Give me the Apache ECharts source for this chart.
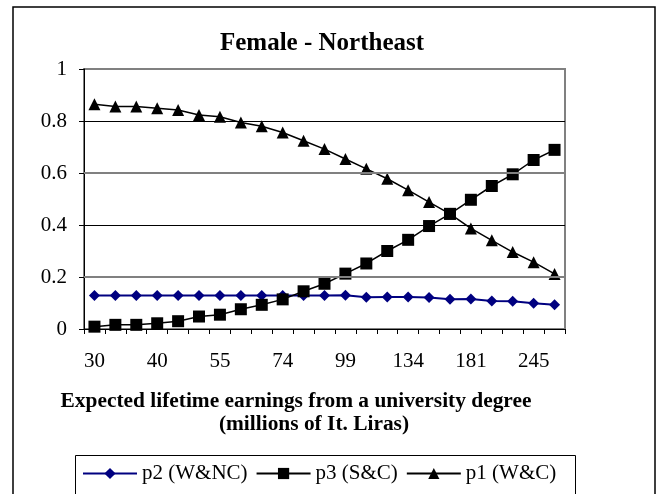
<!DOCTYPE html>
<html>
<head>
<meta charset="utf-8">
<script src="https://cdn.jsdelivr.net/npm/echarts@6/dist/echarts.min.js"></script>
<style>
html,body{margin:0;padding:0;background:#fff;}
#chart{width:663px;height:494px;}
</style>
</head>
<body>
<div id="chart"></div>
<script>
// Expected lifetime earnings (millions of It. Liras), category axis
var categories = [30, 33, 36, 40, 44, 50, 55, 61, 67, 74, 82, 90, 99, 110, 121, 134, 148, 164, 181, 200, 221, 245, 271];
var p2 = [0.129, 0.129, 0.129, 0.129, 0.129, 0.129, 0.129, 0.129, 0.129, 0.129, 0.129, 0.129, 0.130, 0.122, 0.123, 0.123, 0.121, 0.114, 0.115, 0.108, 0.107, 0.099, 0.093];
var p3 = [0.009, 0.016, 0.016, 0.022, 0.030, 0.048, 0.055, 0.076, 0.093, 0.114, 0.145, 0.174, 0.213, 0.252, 0.300, 0.343, 0.396, 0.443, 0.497, 0.550, 0.595, 0.650, 0.689];
var p1 = [0.864, 0.856, 0.856, 0.849, 0.842, 0.823, 0.816, 0.794, 0.780, 0.756, 0.724, 0.692, 0.654, 0.616, 0.578, 0.534, 0.488, 0.443, 0.387, 0.341, 0.296, 0.257, 0.212];
var yTicks = [0, 0.2, 0.4, 0.6, 0.8, 1];
var names = ['p2 (W&NC)', 'p3 (S&C)', 'p1 (W&C)'];

var FONT = "'Liberation Serif','Times New Roman',serif";
var chart = echarts.init(document.getElementById('chart'), null, {renderer: 'canvas'});
chart.setOption({
  animation: false,
  backgroundColor: '#fff',
  textStyle: {fontFamily: FONT, color: '#000'},
  title: [
    {text: 'Female - Northeast', left: 322, top: 31, textAlign: 'center', padding: 0,
     textStyle: {fontFamily: FONT, fontSize: 25, fontWeight: 'bold', color: '#000'}},
    {text: 'Expected lifetime earnings from a university degree', left: 296, top: 391, textAlign: 'center', padding: 0,
     textStyle: {fontFamily: FONT, fontSize: 21.4, fontWeight: 'bold', color: '#000'}},
    {text: '(millions of It. Liras)', left: 314, top: 414, textAlign: 'center', padding: 0,
     textStyle: {fontFamily: FONT, fontSize: 21.4, fontWeight: 'bold', color: '#000'}}
  ],
  graphic: [
    {type: 'rect', shape: {x: 13, y: 7, width: 642, height: 520}, style: {fill: 'none', stroke: '#000', lineWidth: 1.5}, silent: true, z: -10},
    {type: 'rect', shape: {x: 75.5, y: 455.5, width: 500, height: 60}, style: {fill: 'none', stroke: '#000', lineWidth: 1}, silent: true, z: -10}
  ],
  legend: {
    data: names,
    left: 82, top: 463, padding: 0,
    itemWidth: 54, itemHeight: 14, itemGap: 8,
    textStyle: {fontFamily: FONT, fontSize: 21, color: '#000'},
    selectedMode: false
  },
  grid: {left: 84, right: 98, top: 69, bottom: 165, show: true, borderColor: '#808080', borderWidth: 2, backgroundColor: 'transparent'},
  xAxis: {
    type: 'category',
    data: categories,
    boundaryGap: true,
    axisLine: {lineStyle: {color: '#000', width: 1}},
    axisTick: {show: true, interval: 0, length: 5, inside: false, lineStyle: {color: '#000'}},
    axisLabel: {interval: 2, margin: 22, fontFamily: FONT, fontSize: 21, color: '#000'},
    splitLine: {show: false}
  },
  yAxis: {
    type: 'value',
    min: 0, max: 1, interval: 0.2,
    axisLine: {show: true, lineStyle: {color: '#000', width: 1}},
    axisTick: {show: true, length: 5, lineStyle: {color: '#000'}},
    axisLabel: {margin: 17, fontFamily: FONT, fontSize: 21, color: '#000',
      formatter: function (v) { return String(+v.toFixed(1)); }},
    splitLine: {show: true, lineStyle: {color: ['#000', '#808080'], width: 1}}
  },
  series: [
    {name: names[0], type: 'line', data: p2, z: 2,
     symbol: 'diamond', symbolSize: 11,
     lineStyle: {color: '#000080', width: 2}, itemStyle: {color: '#000080'},
     markLine: {silent: true, symbol: 'none', label: {show: false}, animation: false,
       lineStyle: {color: '#808080', width: 2, type: 'solid'},
       data: [{yAxis: yTicks[1]}, {yAxis: yTicks[3]}]}},
    {name: names[1], type: 'line', data: p3, z: 4,
     symbol: 'rect', symbolSize: 12,
     lineStyle: {color: '#000', width: 1.5}, itemStyle: {color: '#000'}},
    {name: names[2], type: 'line', data: p1, z: 3,
     symbol: 'triangle', symbolSize: 12,
     lineStyle: {color: '#000', width: 1.5}, itemStyle: {color: '#000'}}
  ]
});
</script>
</body>
</html>
